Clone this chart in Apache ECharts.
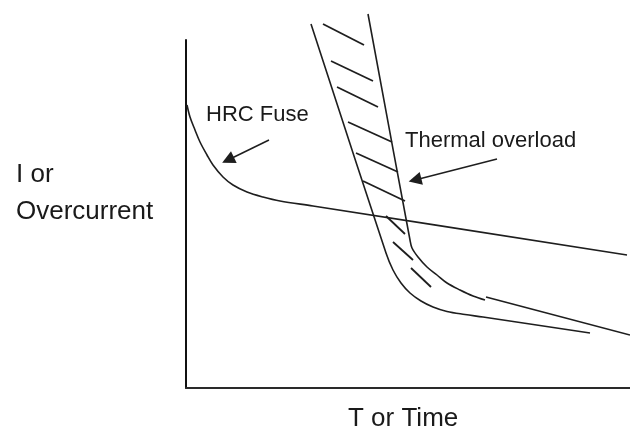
<!DOCTYPE html>
<html>
<head>
<meta charset="utf-8">
<script src="https://cdn.jsdelivr.net/npm/echarts@6/dist/echarts.min.js"></script>
<style>
html,body{margin:0;padding:0;background:#fff;}
#chart{width:630px;height:434px;}
</style>
</head>
<body>
<div id="chart"></div>
<script>
// Axis ranges (arbitrary units: time on x, current on y)
const timeRange = [0, 444];
const currentRange = [0, 348];

// HRC fuse characteristic
const hrcFuseCurve = [[1,283],[4,271],[9,258],[14,246],[21,233],[27,223],[37,211],[47,203],[61,196],[77,191],[94,187],[127,182],[441,133]];

// Thermal overload band: left edge, right edge (curve + tail)
const thermalLeftEdge = [[125,364],[200,135],[207,118],[215,105],[224,95],[235,87],[247,81],[261,76.5],[279,73.5],[297,71],[404,55]];
const thermalRightCurve = [[182,374],[224,148],[226,140],[232,131],[241,121],[251,113],[261,105],[274,98],[287,92],[299,88]];
const thermalRightTail = [[300,91],[444,53]];

// Hatching between the two edges
const thermalHatches = [
  [[137,364],[178,343]],
  [[145,327],[187,307]],
  [[151,301],[192,281]],
  [[162,266],[206,246]],
  [[170,235],[212,216]],
  [[177,207],[219,187]],
  [[200,172],[219,154]],
  [[207,146],[227,128]],
  [[225,120],[245,101]]
];

// Annotation arrows (start -> tip)
const hrcArrow = [[83,248],[42,228]];
const thermalArrow = [[311,229],[229,208]];

// Labels
const hrcLabel = 'HRC Fuse';
const thermalLabel = 'Thermal overload';
const yLabel = ['I or', 'Overcurrent'];
const xLabel = 'T or Time';

const ink = '#1e1e1e';
const chart = echarts.init(document.getElementById('chart'));
const lineSeries = (data) => ({
  type: 'line', data, showSymbol: false, smooth: 0.35,
  silent: true, clip: false,
  lineStyle: { color: ink, width: 1.6 }
});
const font = '"Liberation Sans", Arial, sans-serif';
chart.setOption({
  animation: false,
  backgroundColor: '#fff',
  grid: { left: 186, right: 0, top: 40, bottom: 46 },
  xAxis: {
    type: 'value', min: timeRange[0], max: timeRange[1],
    axisLine: { show: true, lineStyle: { color: '#2a2a2a', width: 2 } },
    axisTick: { show: false }, axisLabel: { show: false }, splitLine: { show: false }
  },
  yAxis: {
    type: 'value', min: currentRange[0], max: currentRange[1],
    axisLine: { show: true, lineStyle: { color: '#111', width: 2 } },
    axisTick: { show: false }, axisLabel: { show: false }, splitLine: { show: false }
  },
  series: [
    lineSeries(hrcFuseCurve),
    lineSeries(thermalLeftEdge),
    lineSeries(thermalRightCurve),
    Object.assign(lineSeries(thermalRightTail), { smooth: false }),
    {
      type: 'lines', coordinateSystem: 'cartesian2d', silent: true, clip: false,
      data: thermalHatches.map(c => ({ coords: c })),
      lineStyle: { color: ink, width: 1.8, opacity: 1 }
    },
    {
      type: 'lines', coordinateSystem: 'cartesian2d', silent: true, clip: false,
      symbol: ['none', 'triangle'], symbolSize: [10, 13],
      data: [{ coords: hrcArrow }, { coords: thermalArrow }],
      lineStyle: { color: ink, width: 1.5, opacity: 1 },
      itemStyle: { color: ink, opacity: 1 }
    }
  ],
  graphic: [
    { type: 'text', left: 206, top: 104, style: { text: hrcLabel, font: '22px ' + font, fill: '#1a1a1a' } },
    { type: 'text', left: 405, top: 130, style: { text: thermalLabel, font: '22px ' + font, fill: '#1a1a1a' } },
    { type: 'text', left: 16, top: 156, style: { text: yLabel.join('\n'), font: '26px ' + font, lineHeight: 37, fill: '#1a1a1a' } },
    { type: 'text', left: 348, top: 406, style: { text: xLabel, font: '26px ' + font, fill: '#1a1a1a' } }
  ]
});
</script>
</body>
</html>
